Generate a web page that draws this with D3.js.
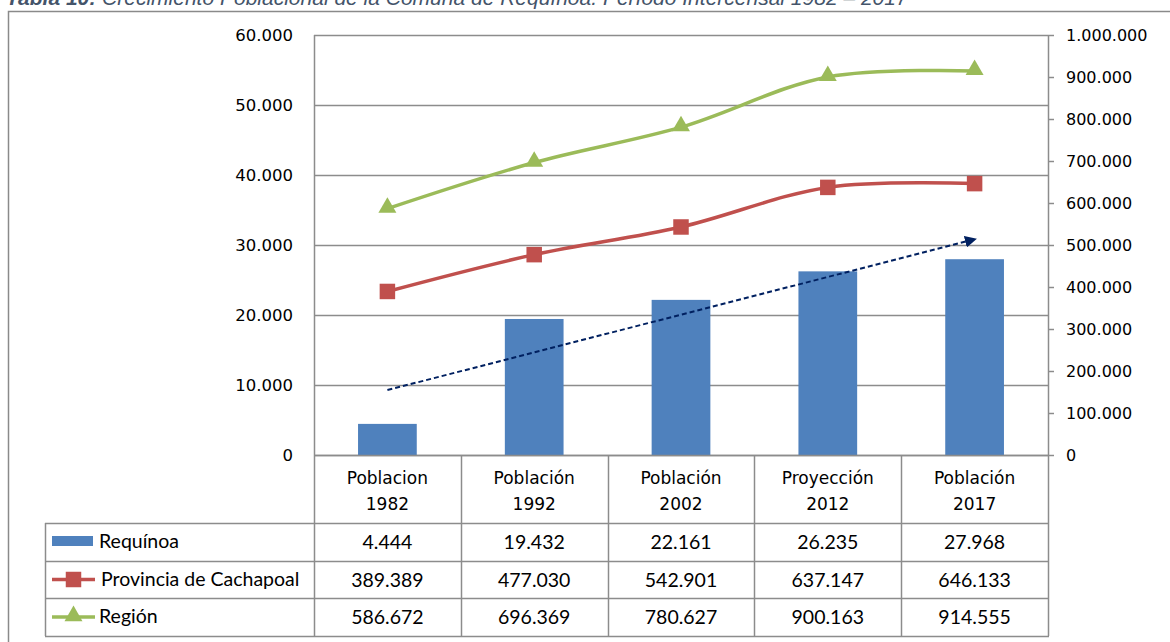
<!DOCTYPE html>
<html>
<head>
<meta charset="utf-8">
<script src="https://cdn.jsdelivr.net/npm/d3@7"></script>
<style>
  body { margin: 0; background: #fff; }
  svg { display: block; }
</style>
</head>
<body>
<script>
// data
const catTop = ["Poblacion", "Población", "Población", "Proyección", "Población"];
const catYear = ["1982", "1992", "2002", "2012", "2017"];
const requinoa = [4444, 19432, 22161, 26235, 27968];
const cachapoal = [389389, 477030, 542901, 637147, 646133];
const region = [586672, 696369, 780627, 900163, 914555];
const leftTicks = [0, 10000, 20000, 30000, 40000, 50000, 60000];
const rightTicks = [0, 100000, 200000, 300000, 400000, 500000, 600000, 700000, 800000, 900000, 1000000];
const seriesNames = ["Requínoa", "Provincia de Cachapoal", "Región"];

const W = 1170, H = 642;
const dims = { l: 314, r: 1048, t: 35, b: 455 };
const blue = "#4F81BD", red = "#C0504D", green = "#9BBB59", navy = "#002060", grid = "#8c8c8c";

const loc = d3.formatLocale({ decimal: ",", thousands: ".", grouping: [3], currency: ["$", ""] });
const fmt = loc.format(",d");

const svg = d3.select("body").append("svg").attr("width", W).attr("height", H);

// title (cut off at top, as in the source)
const title = svg.append("text")
  .attr("x", 6).attr("y", 5)
  .attr("font-family", "Liberation Sans, Arial, sans-serif")
  .attr("font-size", 21).attr("font-style", "italic").attr("fill", "#44546a");
title.append("tspan").attr("font-weight", "bold").text("Tabla 10:");
title.append("tspan").text(" Crecimiento Poblacional de la Comuna de Requínoa. Período Intercensal 1982 – 2017");

// outer frame
svg.append("path").attr("d", `M8.5,${H} V11.5 H${W}`)
  .attr("fill", "none").attr("stroke", "#8a8a8a").attr("stroke-width", 1.5);

const idx = d3.range(catYear.length);
const x = d3.scaleBand().domain(idx).range([dims.l, dims.r]);
const bw = x.bandwidth();
const cx = i => x(i) + bw / 2;
const yL = d3.scaleLinear().domain([0, 60000]).range([dims.b, dims.t]);
const yR = d3.scaleLinear().domain([0, 1000000]).range([dims.b, dims.t]);

// gridlines
svg.append("g").selectAll("line").data(leftTicks).enter().append("line")
  .attr("x1", dims.l).attr("x2", dims.r)
  .attr("y1", d => Math.round(yL(d)) + 0.5).attr("y2", d => Math.round(yL(d)) + 0.5)
  .attr("stroke", grid).attr("stroke-width", 1.5);

// left axis
const axL = svg.append("g").attr("transform", `translate(${dims.l},0)`)
  .call(d3.axisLeft(yL).tickValues(leftTicks).tickFormat(fmt).tickSize(0).tickPadding(21));
axL.select(".domain").remove();
axL.selectAll("text").attr("font-family", "DejaVu Sans, sans-serif").attr("font-size", 16.5).attr("fill", "#000");

// right axis
const axR = svg.append("g").attr("transform", `translate(${dims.r},0)`)
  .call(d3.axisRight(yR).tickValues(rightTicks).tickFormat(fmt).tickSize(6).tickPadding(12));
axR.select(".domain").remove();
axR.selectAll("line").attr("stroke", grid).attr("stroke-width", 1.5);
axR.selectAll("text").attr("font-family", "DejaVu Sans, sans-serif").attr("font-size", 16).attr("fill", "#000");

// bars
svg.append("g").selectAll("rect").data(requinoa).enter().append("rect")
  .attr("x", (d, i) => x(i) + bw * 0.3)
  .attr("width", bw * 0.4)
  .attr("y", d => yL(d))
  .attr("height", d => dims.b - yL(d))
  .attr("fill", blue);

// linear trend of Requínoa
const xs = idx.map(i => i + 1);
const mx = d3.mean(xs), my = d3.mean(requinoa);
const slope = d3.sum(xs.map((v, i) => (v - mx) * (requinoa[i] - my))) / d3.sum(xs.map(v => (v - mx) ** 2));
const icpt = my - slope * mx;
svg.append("defs").append("marker")
  .attr("id", "arr").attr("viewBox", "0 0 10 10").attr("refX", 8).attr("refY", 5)
  .attr("markerWidth", 6).attr("markerHeight", 6).attr("orient", "auto")
  .attr("markerUnits", "strokeWidth")
  .append("path").attr("d", "M0,0 L10,5 L0,10 Z").attr("fill", navy);
svg.append("line")
  .attr("x1", cx(0)).attr("y1", yL(icpt + slope * 1))
  .attr("x2", cx(4)).attr("y2", yL(icpt + slope * 5))
  .attr("stroke", navy).attr("stroke-width", 2).attr("stroke-dasharray", "5,3")
  .attr("marker-end", "url(#arr)");

// lines
const line = d3.line().x((d, i) => cx(i)).y(d => yR(d)).curve(d3.curveCatmullRom.alpha(0.5));
svg.append("path").datum(cachapoal).attr("d", line)
  .attr("fill", "none").attr("stroke", red).attr("stroke-width", 3.5);
svg.append("path").datum(region).attr("d", line)
  .attr("fill", "none").attr("stroke", green).attr("stroke-width", 3.5);

const sq = d3.symbol().type(d3.symbolSquare).size(240);
const tri = d3.symbol().type(d3.symbolTriangle).size(140);
svg.append("g").selectAll("path").data(cachapoal).enter().append("path")
  .attr("d", sq).attr("transform", (d, i) => `translate(${cx(i)},${yR(d)})`).attr("fill", red);
svg.append("g").selectAll("path").data(region).enter().append("path")
  .attr("d", tri).attr("transform", (d, i) => `translate(${cx(i)},${yR(d) - 1})`).attr("fill", green);

// category / table grid
const rows = [523, 561, 598, 636];
const tLeft = 45;
const tg = svg.append("g").attr("stroke", grid).attr("stroke-width", 1.5);
tg.append("line").attr("x1", dims.l + 0.5).attr("x2", dims.l + 0.5).attr("y1", dims.t).attr("y2", rows[3]);
tg.append("line").attr("x1", dims.r + 0.5).attr("x2", dims.r + 0.5).attr("y1", dims.t).attr("y2", rows[3]);
idx.slice(1).forEach(i => {
  tg.append("line").attr("x1", Math.round(x(i)) + 0.5).attr("x2", Math.round(x(i)) + 0.5)
    .attr("y1", dims.b).attr("y2", rows[3]);
});
tg.append("line").attr("x1", tLeft + 0.5).attr("x2", tLeft + 0.5).attr("y1", rows[0]).attr("y2", rows[3]);
tg.append("line").attr("x1", dims.l).attr("x2", dims.r).attr("y1", dims.b + 0.5).attr("y2", dims.b + 0.5);
rows.forEach(r => {
  tg.append("line").attr("x1", tLeft).attr("x2", dims.r + 1).attr("y1", r + 0.5).attr("y2", r + 0.5);
});

// category labels
const cl = svg.append("g").attr("font-family", "DejaVu Sans, sans-serif").attr("font-size", 17)
  .attr("text-anchor", "middle").attr("fill", "#000");
idx.forEach(i => {
  cl.append("text").attr("x", cx(i)).attr("y", 484).text(catTop[i]);
  cl.append("text").attr("x", cx(i)).attr("y", 510).text(catYear[i]);
});

// table values
const allSeries = [requinoa, cachapoal, region];
const tv = svg.append("g").attr("font-family", "Lato, sans-serif").attr("font-size", 19.5).attr("fill", "#000");
allSeries.forEach((s, r) => {
  const ym = (rows[r] + rows[r + 1]) / 2 + 7;
  s.forEach((v, i) => {
    tv.append("text").attr("x", cx(i)).attr("y", ym).attr("text-anchor", "middle").text(fmt(v));
  });
});

// legend keys
const ym0 = (rows[0] + rows[1]) / 2, ym1 = (rows[1] + rows[2]) / 2, ym2 = (rows[2] + rows[3]) / 2;
svg.append("rect").attr("x", 52).attr("y", ym0 - 6).attr("width", 41).attr("height", 10).attr("fill", blue);
svg.append("line").attr("x1", 52).attr("x2", 95).attr("y1", ym1).attr("y2", ym1).attr("stroke", red).attr("stroke-width", 3.5);
svg.append("path").attr("d", sq).attr("transform", `translate(73.5,${ym1})`).attr("fill", red);
svg.append("line").attr("x1", 52).attr("x2", 95).attr("y1", ym2).attr("y2", ym2).attr("stroke", green).attr("stroke-width", 3.5);
svg.append("path").attr("d", tri).attr("transform", `translate(73.5,${ym2 - 1})`).attr("fill", green);
[ym0, ym1, ym2].forEach((ym, r) => {
  tv.append("text").attr("x", r === 1 ? 101 : 99).attr("y", ym + 6).text(seriesNames[r]);
});
</script>
</body>
</html>
